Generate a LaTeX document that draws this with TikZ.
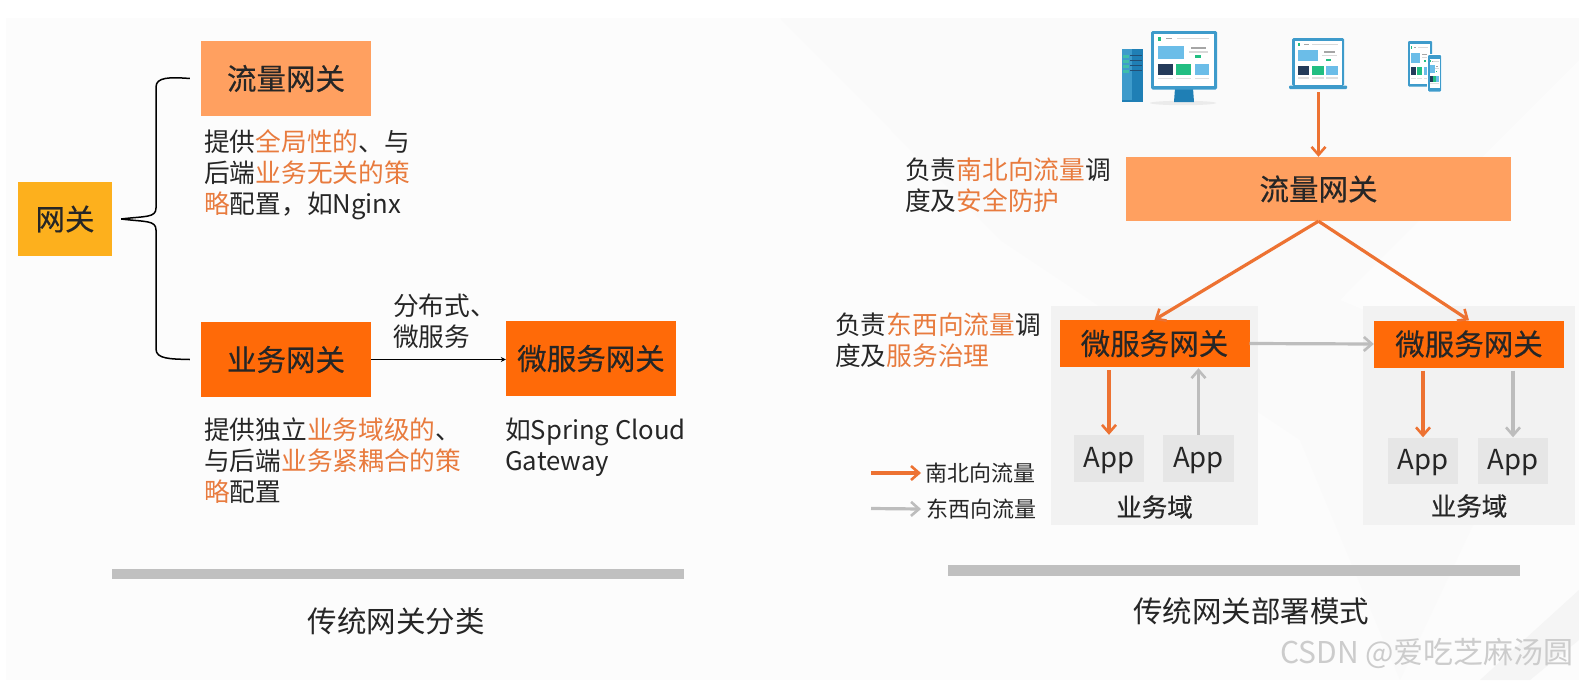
\documentclass[tikz,border=0pt]{standalone}
\usepackage{fontspec}
\setmainfont{Noto Sans CJK SC}
\newfontfamily\boxfont[FakeBold=0.35]{Noto Sans CJK SC}
\usetikzlibrary{arrows.meta,calc,positioning}
\definecolor{txt}{HTML}{262626}
\definecolor{hl}{HTML}{E87B3E}
\definecolor{lightor}{HTML}{FFA060}
\definecolor{deepor}{HTML}{FF6A08}
\definecolor{amber}{HTML}{FDB01D}
\definecolor{arrowor}{HTML}{ED7232}
\definecolor{arrowgr}{HTML}{BDBDBD}
\definecolor{barg}{HTML}{C0C0C0}
\definecolor{domg}{HTML}{F2F2F2}
\definecolor{appg}{HTML}{E6E6E6}
\definecolor{skyb}{HTML}{6BBDE8}
\definecolor{frameb}{HTML}{3E9BCB}
\definecolor{deepb}{HTML}{1F7FB5}
\definecolor{navyb}{HTML}{243B5A}
\definecolor{greenb}{HTML}{22BE82}
\newcommand{\hl}[1]{\textcolor{hl}{#1}}
\newcommand{\webscreen}[4]{%
 \begin{scope}[shift={(#1,#2)},x=#3pt,y=-#4pt]
  \fill[white] (0,0) rectangle (1,1);
  \fill[skyb] (.07,.22) rectangle (.5,.47);
  \fill[gray!70] (.62,.24) rectangle (.87,.28);
  \fill[gray!30] (.58,.32) rectangle (.9,.36);
  \fill[greenb] (.68,.41) rectangle (.78,.46);
  \fill[navyb] (.07,.57) rectangle (.31,.78);
  \fill[greenb] (.37,.57) rectangle (.62,.78);
  \fill[skyb] (.68,.57) rectangle (.92,.78);
  \fill[gray!25] (.07,.84) rectangle (.31,.87);
  \fill[gray!25] (.37,.84) rectangle (.62,.87);
  \fill[gray!25] (.68,.84) rectangle (.92,.87);
  \fill[greenb] (.07,.05) rectangle (.11,.12);
  \fill[gray!70] (.2,.07) rectangle (.3,.1);
  \fill[gray!30] (.38,.07) rectangle (.92,.1);
 \end{scope}}
\tikzset{
  box/.style={inner sep=0pt,font=\boxfont\fontsize{29.5}{34}\selectfont,text=txt},
  lflowbox/.style={box,fill=lightor},
  bizbox/.style={box,fill=deepor},
  note/.style={inner sep=0pt,anchor=north west,align=left,text=txt,font=\fontsize{25.7}{31}\selectfont},
  legendtxt/.style={inner sep=0pt,anchor=west,text=txt,font=\fontsize{22}{26}\selectfont},
  domainbox/.style={fill=domg,inner sep=0pt},
  appbox/.style={fill=appg,inner sep=0pt,text=txt,text height=22pt,text depth=4pt,font=\fontsize{27.5}{32}\selectfont},
  domainlabel/.style={inner sep=0pt,text=txt,font=\boxfont\fontsize{25.5}{30}\selectfont},
  titletxt/.style={inner sep=0pt,text=txt,font=\fontsize{29.5}{35}\selectfont},
  bar/.style={fill=barg,inner sep=0pt},
  orarrow/.style={draw=arrowor,line width=3.2pt,-{Straight Barb[length=8pt,width=14pt,line width=2.6pt]}},
  grarrow/.style={draw=arrowgr,line width=3.2pt,-{Straight Barb[length=8pt,width=14pt,line width=2.6pt]}},
}
\begin{document}
\begin{tikzpicture}[x=1pt,y=-1pt]
\useasboundingbox (0,0) rectangle (1579,680);
\fill[white] (0,0) rectangle (1579,680);
% faint background
\fill[black!1.1] (6,18) rectangle (1579,680);
\fill[black!2] (780,18) -- (1579,18) -- (1579,300) -- (1400,680) -- (1300,440) -- (1000,240) -- cycle;
\fill[black!1] (1340,300) -- (1579,60) -- (1579,400) -- cycle;
\fill[black!4] (1579,590) -- (1579,640) -- (1530,680) -- (1480,680) -- cycle;

% left part
\node[box,fill=amber,minimum width=94pt,minimum height=74pt] (gw) at (65,219) {网关};
\node[lflowbox,minimum width=170pt,minimum height=75pt] (lflow) at (286,78.5) {流量网关};
\node[bizbox,minimum width=170pt,minimum height=75pt] (lbiz) at (286,359.5) {业务网关};
\node[bizbox,minimum width=170pt,minimum height=75pt] (lms) at (591,358.5) {微服务网关};
\coordinate (bstem) at ($(gw.east)+(9,0)$);
\coordinate (btop) at ($(lflow.west)+(-11,0)$);
\coordinate (bbot) at ($(lbiz.west)+(-11,0)$);
\draw[black,line width=1.5pt] (btop) .. controls (170,77) and (156,77) .. (156,87) -- (156,208) .. controls (156,218) and (145,216) .. (bstem);
\draw[black,line width=1.5pt] (bbot) .. controls (170,359) and (156,359) .. (156,349) -- (156,230) .. controls (156,220) and (145,222) .. (bstem);
\draw[black,line width=1.2pt,-{Stealth[length=5pt,width=5pt]}] (lbiz.east) -- (lbiz.east -| lms.west);

\node[note] (n1) at (204,129) {提供\hl{全局性的}、与\\后端\hl{业务无关的策}\\\hl{略}配置，如Nginx};
\node[note] (n2) at (204,418) {提供独立\hl{业务域级的}、\\与后端\hl{业务紧耦合的策}\\\hl{略}配置};
\node[note] (n3) at (505,418) {如Spring Cloud\\Gateway};
\node[note] (n4) at (393,294) {分布式、\\微服务};

\node[bar,minimum width=572pt,minimum height=10pt] (b1) at (398,573.5) {};
\node[bar,minimum width=572pt,minimum height=11pt] (b2) at (1234,570) {};
\node[titletxt] (t1) at (396,621) {传统网关分类};
\node[titletxt] (t2) at (1251,611) {传统网关部署模式};

% right part
\node[domainbox,minimum width=207pt,minimum height=219pt] (d1) at (1154.5,415.5) {};
\node[domainbox,minimum width=212pt,minimum height=219pt] (d2) at (1469,415.5) {};
\node[lflowbox,minimum width=385pt,minimum height=64pt] (rflow) at (1318.5,189) {流量网关};
\node[bizbox,minimum width=190pt,minimum height=47pt] (r1) at (1154.5,343.5) {微服务网关};
\node[bizbox,minimum width=190pt,minimum height=47pt] (r2) at (1469,344) {微服务网关};
\node[appbox,minimum width=70pt,minimum height=47pt] (a1) at (1109,458.5) {App};
\node[appbox,minimum width=71pt,minimum height=47pt] (a2) at (1198.5,458.5) {App};
\node[appbox,minimum width=70pt,minimum height=46pt] (a3) at (1423,460.5) {App};
\node[appbox,minimum width=70pt,minimum height=46pt] (a4) at (1513,460.5) {App};
\node[domainlabel] (dl1) at (1154.5,507) {业务域};
\node[domainlabel] (dl2) at (1469,506) {业务域};

\node[note] (n5) at (905,158) {负责\hl{南北向流量}调\\度及\hl{安全防护}};
\node[note] (n6) at (835,313) {负责\hl{东西向流量}调\\度及\hl{服务治理}};

% devices
\fill[black!8] (1183,103) ellipse (33pt and 2.2pt);
\fill[deepb] (1122,49) rectangle (1143,102);
\fill[frameb] (1122,49) rectangle (1132,100);
\foreach \yy in {55,60,65,70} \fill[greenb!60!skyb] (1123,\yy) rectangle (1129,\yy+2.5);
\foreach \yy in {55,60,65,70} \fill[navyb!70!deepb] (1130,\yy) rectangle (1142,\yy+.8);
\fill[deepb] (1175,88) -- (1193,88) -- (1194,102) -- (1174,102) -- cycle;
\fill[frameb,rounded corners=1.5pt] (1151,31) rectangle (1217,89.5);
\webscreen{1154}{34.3}{60}{51.7}
\fill[frameb,rounded corners=1.5pt] (1292,38) rectangle (1344,86);
\webscreen{1294.5}{40.5}{47}{44}
\fill[frameb,rounded corners=1pt] (1289,85.5) rectangle (1347,89);
\coordinate (lapb) at (1318.5,92);
\fill[frameb,rounded corners=1pt] (1408,41) rectangle (1432,86.5);
\webscreen{1410}{44}{20}{40}
\fill[white] (1427,54) rectangle (1442,92);
\fill[frameb,rounded corners=1pt] (1428,55) rectangle (1441,91.5);
\webscreen{1429.5}{59}{10}{29}

% connectors
\draw[orarrow] (lapb) -- (rflow.north);
\draw[orarrow] (rflow.south) -- (r1.north);
\draw[orarrow] (rflow.south) -- (r2.north);
\draw[grarrow] (r1.east) -- (r2.west);
\draw[orarrow,shorten <=3pt] (r1.south -| a1.north) -- (a1.north);
\draw[grarrow,shorten >=1pt] (a2.north) -- (r1.south -| a2.north);
\draw[orarrow,shorten <=3pt] (r2.south -| a3.north) -- (a3.north);
\draw[grarrow,shorten <=3pt] (r2.south -| a4.north) -- (a4.north);

% legend
\node[legendtxt] (l1) at (925,473) {南北向流量};
\node[legendtxt] (l2) at (926,509) {东西向流量};
\coordinate (l1s) at (871,473);
\coordinate (l2s) at (871,508.5);
\draw[orarrow] (l1s) -- ($(l1.west)+(-4,0)$);
\draw[grarrow] (l2s) -- ($(l2.west)+(-5,0)$);

% watermark
\node[inner sep=0pt,anchor=east,text=black!20,font=\fontsize{30}{34}\selectfont] (wm) at (1574,653) {CSDN @爱吃芝麻汤圆};
\end{tikzpicture}
\end{document}
